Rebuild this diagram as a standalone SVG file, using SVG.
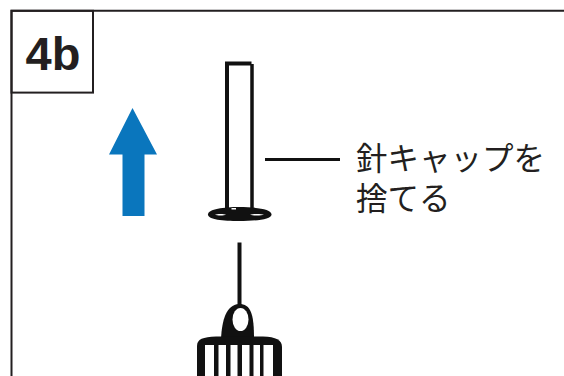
<svg xmlns="http://www.w3.org/2000/svg" width="564" height="376" viewBox="0 0 564 376">
  <style>
    .frame { fill: none; stroke: #231f20; stroke-width: 2; }
    .ink { fill: #111; }
    .line { stroke: #111; fill: none; }
    .step { font-family: "Liberation Sans", Arial, sans-serif; font-weight: bold; font-size: 47px; fill: #231f20; }
    .label { font-family: "Noto Sans CJK JP", "Noto Sans", sans-serif; font-size: 31.5px; fill: #231f20; }
  </style>

  <!-- panel frame and step tag -->
  <g id="panel">
    <path class="frame" d="M11.5,376 V10.8 H564"/>
    <rect class="frame" x="11.5" y="10.8" width="81.5" height="81.8"/>
    <text class="step" x="53" y="70" text-anchor="middle">4b</text>
  </g>

  <!-- upward direction arrow -->
  <g id="arrow-up">
    <path d="M132.5,108 L157,154.5 H144.5 V216 H122.5 V154.5 H109 Z" fill="#0a76bd"/>
  </g>

  <!-- removed needle cap -->
  <g id="needle-cap">
    <path class="line" d="M227,209 V63.6 H251.5" stroke-width="4"/>
    <path class="line" d="M252,64 V209" stroke-width="3.5"/>
    <path class="ink" d="M208,214.5 C208,209 224,207 239,207 C256,207 271.5,209 271.5,214.5 C271.5,219.5 256,221 239,221 C223,221 208,219.5 208,214.5 Z"/>
    <path d="M215,214.8 C217,213.8 224,213.8 226,214.8 C224,215.8 217,215.8 215,214.8 Z" fill="#fff"/>
    <path d="M250,214.8 C253,213.8 261,213.8 264,214.8 C261,215.8 253,215.8 250,214.8 Z" fill="#fff"/>
    <rect x="231.5" y="208" width="4.5" height="1.5" fill="#fff"/>
  </g>

  <!-- needle and hub -->
  <g id="needle">
    <path class="line" d="M239.5,242.5 V306" stroke-width="4"/>
    <path class="ink" d="M221,339 C222,320 226,305 239,304 C251,304 254,314 254,339 Z"/>
    <ellipse cx="240.5" cy="319.5" rx="8" ry="11.5" fill="#fff"/>
    <path class="ink" d="M197,376 V346 C197,339 203,337 216,336.5 H263 C276,337 282,340 282,347 V376 Z"/>
    <g fill="#fff">
      <rect x="205" y="345" width="9" height="31"/>
      <rect x="218.5" y="345" width="7.5" height="31"/>
      <rect x="230.5" y="345" width="7" height="31"/>
      <rect x="242" y="345" width="7.5" height="31"/>
      <rect x="253.5" y="345" width="6.5" height="31"/>
      <rect x="263.5" y="345" width="9.5" height="31"/>
    </g>
  </g>

  <!-- callout -->
  <g id="connectors">
    <path class="line" d="M265,159.5 H340" stroke-width="3"/>
  </g>
  <g id="callout-label">
    <text class="label" x="356" y="170">針キャップを</text>
    <text class="label" x="356" y="210">捨てる</text>
  </g>
</svg>
